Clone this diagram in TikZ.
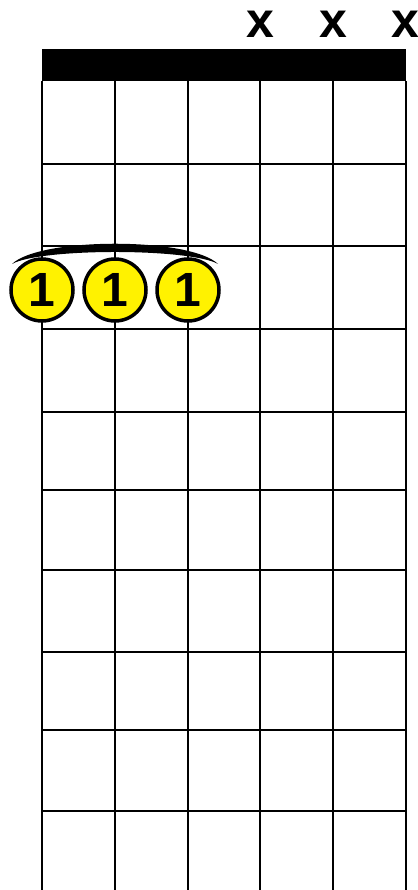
\documentclass[tikz,border=0pt]{standalone}
\usepackage{fontspec}
\setmainfont{Liberation Sans}
\begin{document}
\begin{tikzpicture}[x=1pt,y=1pt,
  finger/.style={circle,draw=black,line width=3.5pt,fill=yellow,minimum size=62pt,inner sep=0pt,font=\bfseries\fontsize{48}{48}\selectfont},
  mute/.style={inner sep=0pt,font=\bfseries\fontsize{50}{50}\selectfont}]
  \useasboundingbox (0,0) rectangle (417,890);
  % nut
  \fill (42,809) rectangle (406,841);
  % strings
  \foreach \x in {42,115,188,260,333,406}
    \draw[line width=2.5pt] (\x,0) -- (\x,809);
  % frets
  \foreach \y in {164,246,329,412,490,570,652,730,811}
    \draw[line width=2.5pt] (42,890-\y) -- (406,890-\y);
  % muted strings
  \node[mute] (m4) at (260,866) {x};
  \node[mute] (m5) at (333,866) {x};
  \node[mute] (m6) at (405,866) {x};
  % barre
  \fill (12,626) .. controls (40,653) and (190,653) .. (218,626)
    .. controls (190,642) and (40,642) .. cycle;
  % fingers
  \node[finger] (f1) at (42,600) {1};
  \node[finger] (f2) at (115,600) {1};
  \node[finger] (f3) at (188,600) {1};
\end{tikzpicture}
\end{document}
